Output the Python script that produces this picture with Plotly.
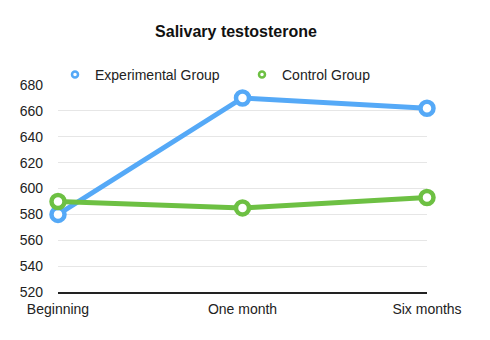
import plotly.graph_objects as go

categories = ["Beginning", "One month", "Six months"]
experimental = [580, 670, 662]
control = [590, 585, 593]
series_names = ["Experimental Group", "Control Group"]
colors = ["#55A9F7", "#6DC043"]

fig = go.Figure()
for name, vals, col in zip(series_names, [experimental, control], colors):
    fig.add_trace(go.Scatter(
        x=categories, y=vals, mode="lines+markers", name=name, showlegend=False,
        line=dict(color=col, width=5),
        marker=dict(size=13, color="white", line=dict(color=col, width=4.5)),
        cliponaxis=False,
    ))
for name, col in zip(series_names, colors):
    fig.add_trace(go.Scatter(
        x=[categories[0]], y=[None], mode="markers", name=name,
        marker=dict(size=6, color="white", line=dict(color=col, width=2.5)),
    ))

fig.update_layout(
    width=490, height=340,
    margin=dict(l=58, r=63, t=85, b=48),
    paper_bgcolor="white", plot_bgcolor="white",
    font=dict(family="Liberation Sans, Arial, sans-serif", size=14, color="#222"),
    title=dict(text="<b>Salivary testosterone</b>", x=236/490, xanchor="center",
               y=1-31/340, yanchor="middle", font=dict(size=16, color="#111")),
    legend=dict(orientation="h", xref="paper", yref="paper",
                x=-3/369, xanchor="left", y=1 + 10/207, yanchor="middle",
                entrywidth=142, entrywidthmode="pixels", itemwidth=30,
                font=dict(size=14, color="#222"), bgcolor="rgba(0,0,0,0)"),
    xaxis=dict(type="category", range=[0, 2], showgrid=False, showline=True,
               linecolor="#222", linewidth=1.5, ticks="", zeroline=False,
               tickfont=dict(size=14), ticklabelstandoff=3),
    yaxis=dict(range=[520, 680], dtick=20, showgrid=True, gridcolor="#e6e6e6",
               gridwidth=1, zeroline=False, showline=False, ticks="",
               tickfont=dict(size=14), ticklabelstandoff=14),
)

fig.write_html("out.html")
